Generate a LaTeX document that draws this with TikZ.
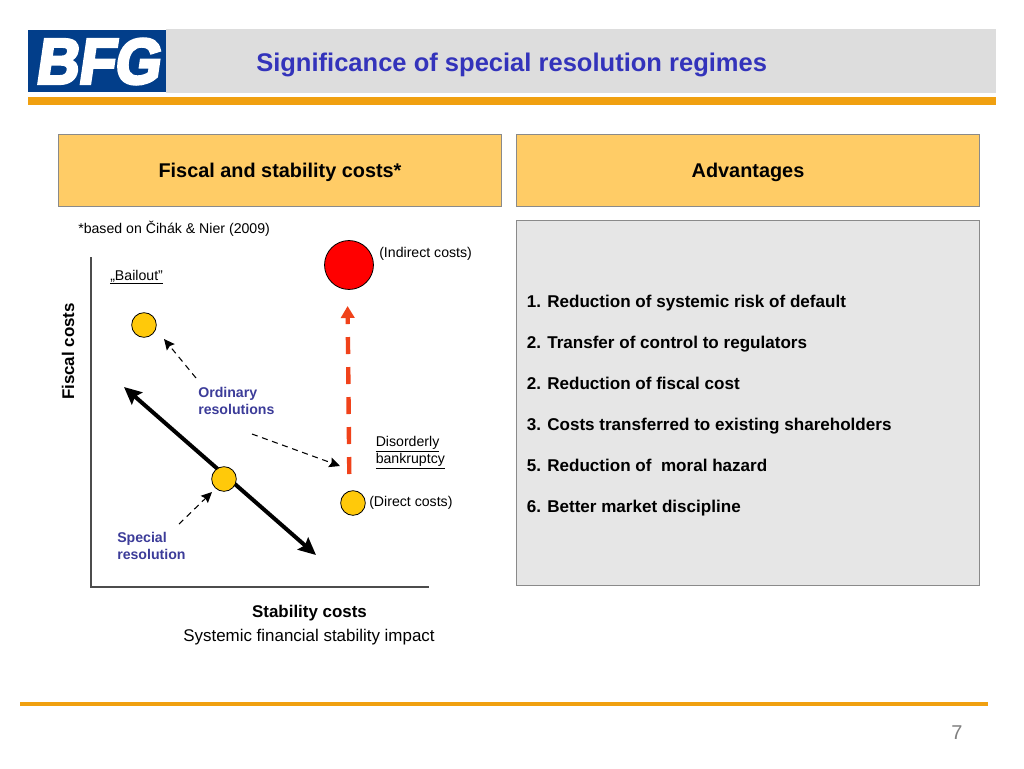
\documentclass[tikz,border=0pt]{standalone}
\usepackage{fontspec}
\setmainfont{Liberation Sans}
\newfontfamily\logofont[FakeBold=5,FakeSlant=0.16]{Liberation Sans Bold}
\usetikzlibrary{arrows.meta}
\definecolor{logoblue}{HTML}{023E8A}
\definecolor{bandgrey}{HTML}{DDDDDD}
\definecolor{barorange}{HTML}{F0A010}
\definecolor{headfill}{HTML}{FFCC66}
\definecolor{panelfill}{HTML}{E6E6E6}
\definecolor{edgegrey}{HTML}{8A8A8A}
\definecolor{titleblue}{HTML}{3333BB}
\definecolor{labelblue}{HTML}{3C3C99}
\definecolor{dotyellow}{HTML}{FFC90A}
\definecolor{dashred}{HTML}{F0421A}
\newcommand{\fpx}[2]{\fontsize{#1}{#2}\selectfont}
\tikzset{
  x=0.75pt,y=-0.75pt,
  headbox/.style={draw=edgegrey,line width=0.6pt,fill=headfill,minimum width=0.75pt*#1,minimum height=54pt,inner sep=0pt,font=\fpx{14.9}{17}\bfseries,align=center},
  txt/.style={inner sep=0pt,anchor=base west,font=\fpx{10.6}{13}},
  bluelabel/.style={inner sep=0pt,anchor=north west,align=left,text=labelblue,font=\fpx{10.6}{12.6}\bfseries},
  ulabel/.style={inner sep=0pt,anchor=north west,align=left,font=\fpx{10.6}{12.9}},
  listtxt/.style={inner sep=0pt,anchor=base west,font=\fpx{12.8}{15}\bfseries},
  dot/.style={circle,draw=black,line width=0.6pt,fill=dotyellow,minimum size=18.5pt,inner sep=0pt},
  thinarrow/.style={draw=black,line width=0.8pt,dash pattern=on 4.5pt off 3.5pt,-{Stealth[length=8pt,width=7.5pt,inset=1.2pt]}},
}
\begin{document}
\begin{tikzpicture}
\useasboundingbox (0,0) rectangle (1024,768);
\fill[white] (0,0) rectangle (1024,768);
% header
\fill[bandgrey] (166,29) rectangle (996,93);
\fill[logoblue] (28,30) rectangle (166,92);
\node[inner sep=0pt,text=white] (logo) at (97,61.5) {\scalebox{0.92}[1]{\logofont\fontsize{48}{48}\selectfont BFG}};
\fill[barorange] (28,97) rectangle (996,105);
\node[inner sep=0pt,anchor=base west,text=titleblue,font=\fpx{19.15}{22}\bfseries] (title) at (256,71) {Significance of special resolution regimes};
% column heads
\node[headbox=443.5] (h1) at (280,170) {\raisebox{-5.9pt}[0pt][0pt]{Fiscal and stability costs*}};
\node[headbox=463.5] (h2) at (748,170) {\raisebox{-5.9pt}[0pt][0pt]{Advantages}};
\node[txt] (note) at (78,233) {*based on Čihák \& Nier (2009)};
% panel
\node[draw=edgegrey,line width=0.6pt,fill=panelfill,minimum width=347.6pt,minimum height=273.75pt,inner sep=0pt] (panel) at (748,402.5) {};
\node[listtxt] (n1) at (526.5,307) {1.}; \node[listtxt] (t1) at (547,307) {Reduction of systemic risk of default};
\node[listtxt] (n2) at (526.5,348) {2.}; \node[listtxt] (t2) at (547,348) {Transfer of control to regulators};
\node[listtxt] (n3) at (526.5,389) {2.}; \node[listtxt] (t3) at (547,389) {Reduction of fiscal cost};
\node[listtxt] (n4) at (526.5,430) {3.}; \node[listtxt] (t4) at (547,430) {Costs transferred to existing shareholders};
\node[listtxt] (n5) at (526.5,471) {5.}; \node[listtxt] (t5) at (547,471) {Reduction of\ \ moral hazard};
\node[listtxt] (n6) at (526.5,512) {6.}; \node[listtxt] (t6) at (547,512) {Better market discipline};
% axes
\coordinate (axtop) at (91,257);
\coordinate (axorigin) at (91,587);
\coordinate (axright) at (429,587);
\draw[draw=black!70,line width=0.8pt] (axtop) -- (axorigin) -- (axright);
\node[inner sep=0pt,rotate=90,font=\fpx{12.7}{14}\bfseries] (ylab) at (68,351.5) {Fiscal costs};
\node[inner sep=0pt,anchor=base,font=\fpx{12.7}{14}\bfseries] (xlab) at (309.5,617) {Stability costs};
\node[inner sep=0pt,anchor=base,font=\fpx{12.7}{14}] (xsub) at (309,641) {Systemic financial stability impact};
% main arrow
\coordinate (ba) at (124,387);
\coordinate (bb) at (316,555);
\draw[line width=3pt,{Stealth[length=13pt,width=12pt,inset=2pt]}-{Stealth[length=13pt,width=12pt,inset=2pt]}] (ba) -- (bb);
% red dashed
\coordinate (ra) at (349.3,474);
\coordinate (rb) at (347.6,306);
\draw[draw=dashred,line width=3.3pt,dash pattern=on 12.75pt off 9.75pt,-{Stealth[length=9pt,width=10pt,inset=0pt]}] (ra) -- (rb);
% circles
\node[dot] (bail) at (144,325) {};
\node[dot] (spec) at (224,479) {};
\node[dot] (dir) at (353,503) {};
\node[circle,draw=black,line width=0.6pt,fill=red,minimum size=36.7pt,inner sep=0pt] (ind) at (349,265) {};
% labels
\node[ulabel] (bailout) at (110,269.5) {\underline{„Bailout”}};
\node[txt] (indl) at (379,257) {(Indirect costs)};
\node[txt] (dirl) at (369,506) {(Direct costs)};
\node[ulabel] (dis) at (375.5,435.5) {\underline{Disorderly}\\\underline{bankruptcy}};
\node[bluelabel] (ord) at (198,387) {Ordinary\\resolutions};
\node[bluelabel] (spl) at (117,532) {Special\\resolution};
% thin arrows
\coordinate (o1) at (196,378);
\coordinate (o2) at (164,339);
\coordinate (o3) at (252,434);
\coordinate (o4) at (340,466);
\coordinate (s1) at (179,524);
\coordinate (s2) at (212,492);
\draw[thinarrow] (o1) -- (o2);
\draw[thinarrow] (o3) -- (o4);
\draw[thinarrow] (s1) -- (s2);
% footer
\coordinate (fa) at (20,704);
\coordinate (fb) at (988,704);
\draw[draw=barorange,line width=2.6pt] (fa) -- (fb);
\node[inner sep=0pt,anchor=base,text=black!50,font=\fpx{15}{18}] (page) at (957,739) {7};
\end{tikzpicture}
\end{document}
